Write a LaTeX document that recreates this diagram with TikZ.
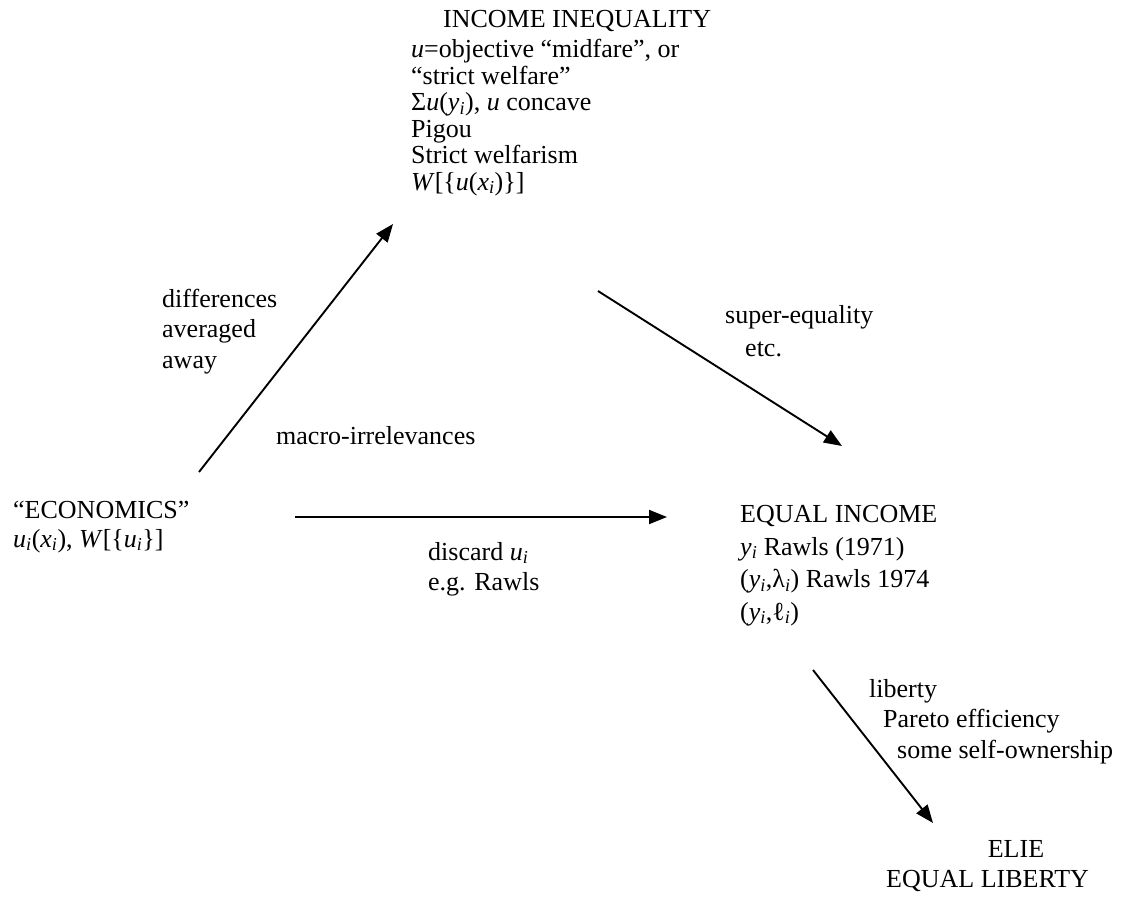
\documentclass[tikz,border=0pt]{standalone}
\usepackage{fontspec}
\setmainfont{Liberation Serif}
\usetikzlibrary{arrows.meta, positioning}
\tikzset{
  blurb/.style = {align=left, inner sep=0pt, anchor=base west,
                  font=\fontsize{26}{#1}\selectfont},
  blurb/.default = 26.5,
  link/.style = {line width=1.9pt, arrows={-Triangle[length=18pt, width=14pt]}},
}
\newcommand{\ivar}[1]{\textit{#1}\textsubscript{\textit{i}}}

\begin{document}
\begin{tikzpicture}[x=1pt, y=-1pt]
  \useasboundingbox (0,0) rectangle (1125,897);

  %% The four corners of the scheme (placed by the baseline of the last line)
  \node [blurb] (ineq title) at (443,27) {INCOME INEQUALITY};
  \node [blurb] (ineq) at (411,190) {\textit{u}=objective “midfare”, or\\
    “strict welfare”\\ Σ\textit{u}(\ivar{y}), \textit{u} concave\\ Pigou\\
    Strict welfarism\\ \textit{W}[\{\textit{u}(\ivar{x})\}]};
  \node [blurb=29] (econ) at (13,547) {“ECONOMICS”\\
    \ivar{u}(\ivar{x}), \textit{W}[\{\ivar{u}\}]};
  \node [blurb=32.5] (eqinc) at (740,620) {EQUAL INCOME\\ \ivar{y} Rawls (1971)\\
    (\ivar{y},λ\textsubscript{\textit{i}}) Rawls 1974\\
    (\ivar{y},ℓ\textsubscript{\textit{i}})};
  \node [blurb, anchor=base] (elie) at (1016,857) {ELIE};
  \node [blurb] (eqlib) at (886,887) {EQUAL LIBERTY};

  %% Ends of the arrows
  \coordinate (up from) at (199,472);
  \coordinate (up to) at (393,224);
  \coordinate (across from) at (295,517);
  \coordinate (across to) at (667,517);
  \coordinate (down from) at (598,291);
  \coordinate (down to) at (842,446);
  \coordinate (low from) at (813,670);
  \coordinate (low to) at (933,823);

  \draw [link] (up from) -- (up to);
  \draw [link] (across from) -- (across to);
  \draw [link] (down from) -- (down to);
  \draw [link] (low from) -- (low to);

  %% What each step takes away or adds
  \node [blurb=30.5] (avg) at (162,368) {differences\\ averaged\\ away};
  \node [blurb] (macro) at (276,444) {macro-irrelevances};
  \node [blurb=30] (discard) at (428,590) {discard \ivar{u}\\ e.g. Rawls};
  \node [blurb=33] (super) at (725,356) {super-equality\\ \hspace*{20pt}etc.};
  \node [blurb=30.5] (liberty) at (869,758) {liberty\\
    \hspace*{14pt}Pareto efficiency\\ \hspace*{28pt}some self-ownership};
\end{tikzpicture}
\end{document}
